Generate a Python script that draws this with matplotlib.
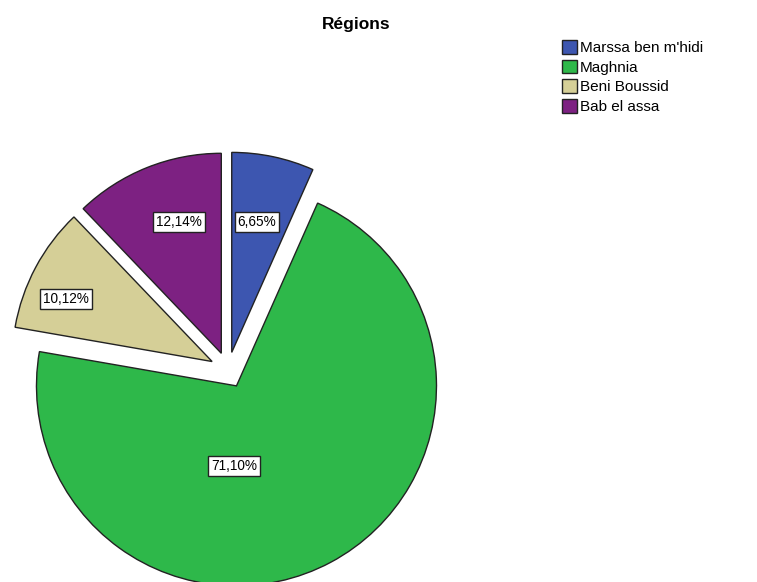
import matplotlib
matplotlib.use("Agg")
import matplotlib.pyplot as plt
from matplotlib.patches import Patch

# Region shares (percent)
regions = ["Marssa ben m'hidi", "Maghnia", "Beni Boussid", "Bab el assa"]
shares = [6.65, 71.10, 10.12, 12.14]
colors = ["#3d56b0", "#2eb84a", "#d5cf97", "#7d2182"]

plt.rcParams['font.family'] = ['Liberation Sans', 'DejaVu Sans']

fig = plt.figure(figsize=(7.57, 5.82), dpi=100)
ax = fig.add_axes([0, 0, 1, 1])

# Pie centred in pixel units, every slice pulled out
center = (228, 582 - 370)
wedges, _ = ax.pie(shares, colors=colors, startangle=90, counterclock=False,
                   radius=200, center=center, explode=[18] * len(shares),
                   wedgeprops=dict(edgecolor='#222222', linewidth=1.0),
                   frame=True)
ax.set_xlim(0, 757)
ax.set_ylim(0, 582)
ax.set_aspect('equal')
ax.axis('off')

# Percentage labels (French decimal comma)
label_pos = [(257, 222), (234, 466), (66, 299), (179, 222)]
for (x, y), v in zip(label_pos, shares):
    ax.text(x, 582 - y, f"{v:.2f}%".replace('.', ','), ha='center', va='center',
            fontsize=9.8,
            bbox=dict(boxstyle='square,pad=0.22', facecolor='white',
                      edgecolor='#222222', linewidth=1.0))

fig.text(356 / 757, 1 - 25 / 582, "Régions", ha='center', va='center',
         fontsize=12.5, fontweight='bold')

handles = [Patch(facecolor=c, edgecolor='#222222', label=r) for c, r in zip(colors, regions)]
fig.legend(handles=handles, loc='upper left', bbox_to_anchor=(562 / 757, 1 - 40 / 582),
           frameon=False, fontsize=11, handlelength=1.0, handleheight=1.0,
           handletextpad=0.15, labelspacing=0.3, borderpad=0, borderaxespad=0)

fig.savefig("out.png", dpi=100)
